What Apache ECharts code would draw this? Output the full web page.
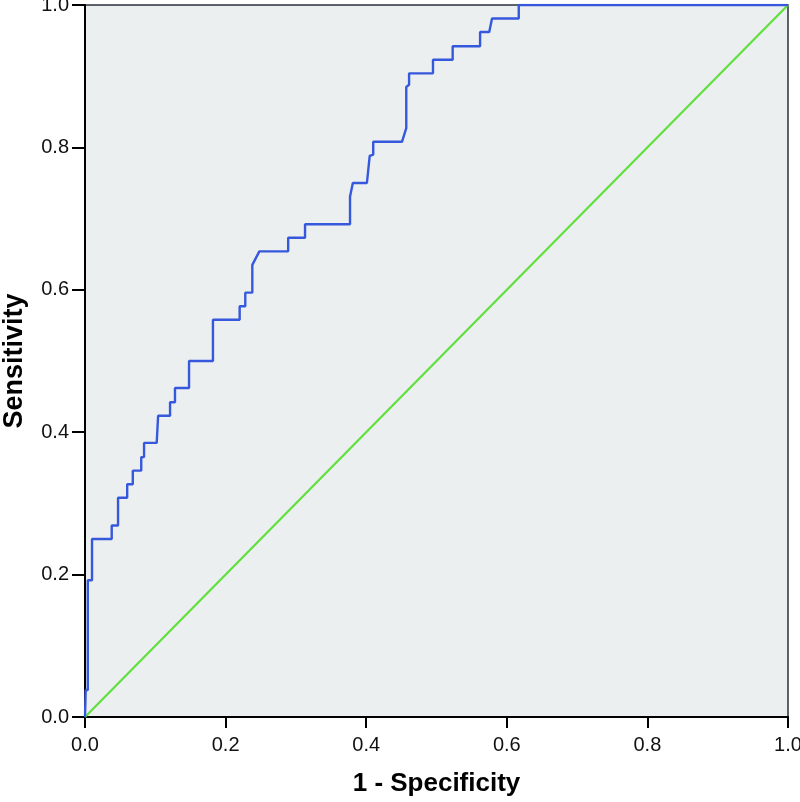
<!DOCTYPE html>
<html>
<head>
<meta charset="utf-8">
<script src="https://cdn.jsdelivr.net/npm/echarts@6/dist/echarts.min.js"></script>
<style>html,body{margin:0;padding:0;background:#fff}#c{width:800px;height:802px}</style>
</head>
<body>
<div id="c"></div>
<script>
// ROC curve vertices (1 - Specificity, Sensitivity)
const rocX = [0, 0.001, 0.001, 0.004, 0.004, 0.010, 0.010, 0.038, 0.038, 0.047, 0.047, 0.060, 0.060, 0.068, 0.068, 0.080, 0.080, 0.084, 0.084, 0.102, 0.104, 0.121, 0.121, 0.128, 0.128, 0.148, 0.148, 0.182, 0.182, 0.220, 0.220, 0.228, 0.228, 0.238, 0.238, 0.248, 0.289, 0.289, 0.313, 0.313, 0.377, 0.377, 0.381, 0.401, 0.405, 0.410, 0.410, 0.451, 0.457, 0.457, 0.461, 0.461, 0.495, 0.495, 0.523, 0.523, 0.562, 0.562, 0.575, 0.579, 0.617, 0.617, 1.0];
const rocY = [0, 0, 0.038, 0.038, 0.192, 0.192, 0.250, 0.250, 0.269, 0.269, 0.308, 0.308, 0.327, 0.327, 0.346, 0.346, 0.365, 0.365, 0.385, 0.385, 0.423, 0.423, 0.442, 0.442, 0.462, 0.462, 0.500, 0.500, 0.558, 0.558, 0.577, 0.577, 0.596, 0.596, 0.635, 0.654, 0.654, 0.673, 0.673, 0.692, 0.692, 0.731, 0.750, 0.750, 0.788, 0.790, 0.808, 0.808, 0.827, 0.885, 0.888, 0.904, 0.904, 0.923, 0.923, 0.942, 0.942, 0.962, 0.962, 0.981, 0.981, 1.0, 1.0];
// Reference line
const refX = [0, 1];
const refY = [0, 1];
const xTicks = ['0.0', '0.2', '0.4', '0.6', '0.8', '1.0'];
const yTicks = ['0.0', '0.2', '0.4', '0.6', '0.8', '1.0'];

const rocData = rocX.map((x, i) => [x, rocY[i]]);
const refData = refX.map((x, i) => [x, refY[i]]);

const chart = echarts.init(document.getElementById('c'), null, {renderer: 'canvas'});
const FONT = 'Liberation Sans, Arial, sans-serif';
chart.setOption({
  animation: false,
  backgroundColor: '#ffffff',
  grid: {
    left: 85, right: 12, top: 5, bottom: 85,
    containLabel: false, outerBoundsMode: 'none',
    show: true, backgroundColor: '#eceff0', borderColor: '#2a2f3a', borderWidth: 1.5
  },
  xAxis: {
    type: 'value', min: 0, max: 1, interval: 0.2,
    name: '1 - Specificity', nameLocation: 'middle', nameGap: 54,
    nameTextStyle: {fontFamily: FONT, fontWeight: 'bold', fontSize: 26, color: '#000'},
    axisLine: {show: true, onZero: false, lineStyle: {color: '#000', width: 2}},
    axisTick: {show: true, length: 11, lineStyle: {color: '#000', width: 2}},
    axisLabel: {margin: 18, fontFamily: FONT, fontSize: 20, color: '#111',
      formatter: v => xTicks[Math.round(v / 0.2)]},
    splitLine: {show: false}
  },
  yAxis: {
    type: 'value', min: 0, max: 1, interval: 0.2,
    name: 'Sensitivity', nameLocation: 'middle', nameGap: 57,
    nameTextStyle: {fontFamily: FONT, fontWeight: 'bold', fontSize: 27, color: '#000'},
    axisLine: {show: true, onZero: false, lineStyle: {color: '#000', width: 2}},
    axisTick: {show: true, length: 13, lineStyle: {color: '#000', width: 2}},
    axisLabel: {margin: 16, fontFamily: FONT, fontSize: 20, color: '#111',
      formatter: v => yTicks[Math.round(v / 0.2)]},
    splitLine: {show: false}
  },
  series: [
    {
      type: 'line', data: refData, symbol: 'none', z: 2,
      lineStyle: {color: '#5fe03c', width: 2.2}
    },
    {
      type: 'line', data: rocData, symbol: 'none', z: 3,
      lineStyle: {color: '#3658dc', width: 2.4}
    }
  ]
});
</script>
</body>
</html>
